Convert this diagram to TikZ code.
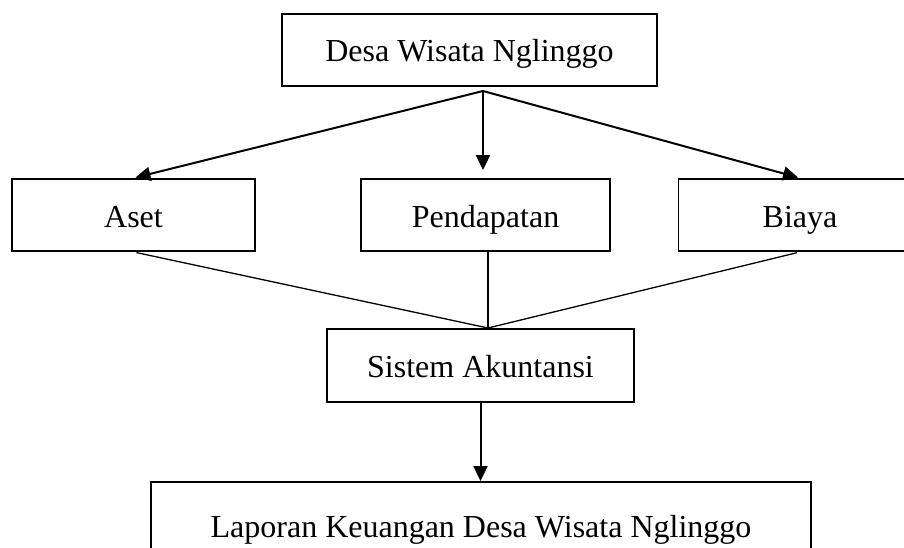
\documentclass[tikz,border=0pt]{standalone}
\usepackage{fontspec}
\setmainfont{Liberation Serif}
\usetikzlibrary{arrows.meta,positioning}
\tikzstyle{every picture}+=[>={Triangle[length=15pt,width=14pt]}]
\tikzstyle{box}=[rectangle,draw=black,line width=1.9pt,minimum height=72pt,
  inner sep=0pt,text height=24pt,text depth=0pt,font=\fontsize{32}{36}\selectfont]
\tikzstyle{flow}=[->,line width=2pt]
\tikzstyle{link}=[line width=1.3pt,shorten <=3pt]

\begin{document}
\begin{tikzpicture}[x=1pt,y=-1pt]
\useasboundingbox (0,0) rectangle (904,548);
\node[box,minimum width=375pt] (desa) at (469.5,50) {Desa Wisata Nglinggo};
\node[box,minimum width=243pt] (aset) at (133.5,215) {Aset};
\node[box,minimum width=249pt] (pend) at (485.5,215) {Pendapatan};
\node[box,minimum width=243pt] (biaya) at (800,215) {Biaya};
\node[box,minimum width=307pt,minimum height=73pt] (sistem) at (480.5,365.5) {Sistem Akuntansi};
\node[box,minimum width=660pt,minimum height=86pt] (laporan) at (481,525) {Laporan Keuangan Desa Wisata Nglinggo};
%\coordinate (split) at (desa.south);
\coordinate (split) at (483,91);
\coordinate (join) at (488,328);
\draw[flow,shorten >=2pt] (split) -- (aset.north);
\draw[flow,shorten >=8pt] (split) -- (split |- pend.north);
\draw[flow,shorten >=2pt] (split) -- (biaya.north);
\draw[link] (aset.south) -- (join);
\draw[link,shorten <=0pt] (join |- pend.south) -- (join);
\draw[link] (biaya.south) -- (join);
\draw[flow] (sistem.south) -- (sistem.south |- laporan.north);
\end{tikzpicture}
\end{document}
